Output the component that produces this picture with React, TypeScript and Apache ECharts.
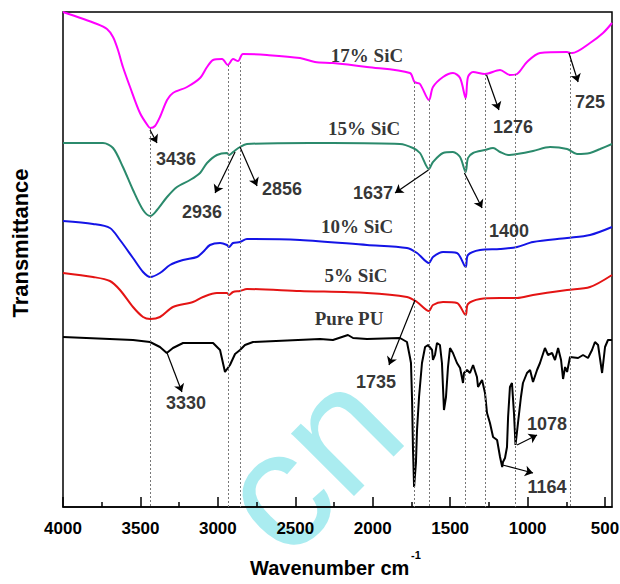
import React, { useEffect, useRef } from "react";
import * as echarts from "echarts";

const majorTicks = [4000, 3500, 3000, 2500, 2000, 1500, 1000, 500];
const minorTicks = [3750, 3250, 2750, 2250, 1750, 1250, 750];

const sic17: [number, number][] = [
  [4000, 495], [3780, 483], [3716, 478], [3677, 470], [3645, 457], [3613, 440], [3567, 420], [3503, 394],
  [3451, 381], [3436, 379], [3406, 381], [3374, 390], [3328, 407], [3290, 414], [3199, 420], [3115, 429],
  [3070, 440], [3031, 447], [2973, 448], [2936, 442], [2902, 448], [2870, 446], [2838, 453], [2683, 452],
  [2470, 449], [2373, 445], [2257, 444], [2037, 440], [1760, 434], [1730, 425], [1695, 423], [1637, 407],
  [1611, 420], [1546, 430], [1482, 434], [1436, 429], [1400, 409], [1385, 430], [1352, 435], [1276, 433],
  [1178, 437], [1114, 432], [1068, 433], [1004, 445], [920, 454], [745, 455], [725, 454], [713, 454],
  [597, 464], [513, 474], [455, 484],
];

const sic15: [number, number][] = [
  [4000, 364], [3742, 364], [3677, 359], [3613, 340], [3548, 317], [3483, 297], [3436, 291], [3393, 297],
  [3328, 310], [3264, 320], [3180, 327], [3115, 334], [3070, 344], [3006, 352], [2941, 354], [2928, 352],
  [2902, 355], [2857, 360], [2812, 363], [2405, 364], [2257, 364], [1824, 363], [1740, 359], [1695, 354],
  [1637, 338], [1611, 345], [1546, 354], [1482, 355], [1436, 350], [1400, 335], [1385, 349], [1352, 354],
  [1275, 357], [1223, 359], [1178, 355], [1126, 352], [1068, 353], [965, 356], [855, 360], [745, 358],
  [681, 353], [597, 354], [532, 358], [455, 363],
];

const sic10: [number, number][] = [
  [4000, 286], [3806, 283], [3697, 279], [3632, 267], [3548, 249], [3483, 235], [3436, 230], [3374, 234],
  [3309, 242], [3225, 247], [3135, 250], [3096, 255], [3051, 262], [2986, 264], [2941, 262], [2928, 260],
  [2902, 264], [2857, 265], [2812, 268], [2470, 267], [2037, 262], [1779, 259], [1714, 254], [1637, 244],
  [1611, 250], [1546, 255], [1456, 254], [1400, 240], [1385, 252], [1307, 257], [1178, 258], [1068, 260],
  [965, 265], [745, 269], [597, 272], [455, 280],
];

const sic5: [number, number][] = [
  [4000, 234], [3806, 230], [3697, 226], [3632, 217], [3548, 200], [3483, 190], [3436, 188], [3374, 190],
  [3290, 200], [3161, 205], [3096, 210], [3006, 214], [2941, 214], [2928, 212], [2902, 215], [2857, 216],
  [2812, 218], [2470, 216], [2037, 214], [1779, 210], [1714, 205], [1637, 196], [1611, 202], [1546, 205],
  [1456, 204], [1400, 192], [1385, 203], [1307, 208], [1178, 209], [1068, 209], [965, 212], [745, 217],
  [597, 220], [455, 232],
];

const purePU: [number, number][] = [
  [4000, 170], [3548, 167], [3438, 165], [3374, 160], [3330, 154], [3290, 159], [3225, 164], [3031, 164],
  [2986, 157], [2954, 135], [2922, 142], [2889, 153], [2857, 157], [2825, 162], [2773, 165], [2340, 168],
  [2257, 167], [2160, 172], [2127, 169], [2037, 168], [1824, 169], [1779, 165], [1760, 150], [1753, 144],
  [1746, 107], [1740, 57], [1733, 20], [1721, 44], [1714, 77], [1701, 110], [1682, 144], [1662, 160],
  [1643, 162], [1617, 157], [1611, 147], [1598, 152], [1585, 164], [1566, 162], [1553, 144], [1540, 97],
  [1527, 110], [1514, 140], [1501, 159], [1482, 154], [1456, 144], [1436, 139], [1417, 124], [1411, 134],
  [1391, 137], [1372, 134], [1352, 142], [1327, 130], [1320, 120], [1294, 127], [1275, 114], [1262, 94],
  [1243, 84], [1223, 70], [1197, 67], [1178, 50], [1164, 40], [1159, 45], [1146, 49], [1133, 60],
  [1126, 90], [1114, 120], [1101, 124], [1088, 94], [1078, 62], [1062, 84], [1043, 110], [1030, 124],
  [1004, 134], [984, 137], [965, 125], [939, 137], [920, 144], [888, 159], [868, 152], [842, 154],
  [823, 147], [803, 159], [784, 147], [771, 128], [758, 140], [745, 135], [726, 150], [674, 149],
  [642, 152], [610, 149], [584, 157], [565, 165], [545, 162], [519, 134], [500, 160], [481, 167],
  [455, 167],
];

const sampleNames = ["17% SiC", "15% SiC", "10% SiC", "5% SiC", "Pure PU"];
const sampleLabelPos: [number, number][] = [[2037, 452], [2056, 379], [2101, 281], [2108, 232], [2153, 189]];

const peakNames = ["3436", "2936", "2856", "1637", "1400", "1276", "725", "3330", "1735", "1078", "1164"];
const peakLabelPos: [number, number][] = [
  [3270, 348], [3102, 295], [2586, 318], [1998, 314], [1120, 276], [1094, 380], [597, 405],
  [3206, 104], [1979, 125], [875, 83], [875, 20],
];
const arrowFrom: [number, number][] = [
  [3438, 377], [2889, 355], [2857, 360], [1640, 337], [1408, 334], [1265, 432], [733, 454],
  [3328, 154], [1727, 207], [1068, 62], [1162, 42],
];
const arrowTo: [number, number][] = [
  [3393, 364], [3018, 314], [2747, 321], [1856, 314], [1294, 299], [1185, 397], [674, 425],
  [3232, 115], [1895, 142], [939, 72], [965, 34],
];

const guideWn = [3436, 2936, 2856, 1735, 1637, 1400, 1276, 1078, 725];
const guideTop = [379, 442, 445, 425, 407, 409, 433, 433, 455];

const sansBold = "'Liberation Sans', Arial, sans-serif";

export default function App() {
  const ref = useRef<HTMLDivElement>(null);
  useEffect(() => {
    const chart = echarts.init(ref.current!, null, { renderer: "svg" });
    const lineSeries = (name: string, data: [number, number][], color: string, smooth: number | boolean) => ({
      name,
      type: "line",
      data,
      showSymbol: false,
      symbol: "none",
      smooth,
      lineStyle: { color, width: 2 },
      silent: true,
      z: 3,
    });
    const option: any = {
      animation: false,
      backgroundColor: "#fff",
      grid: {
        left: 63, right: 8, top: 12, bottom: 77, show: true, borderColor: "#000", borderWidth: 1.5,
        backgroundColor: "transparent", containLabel: false, outerBoundsMode: "none",
      },
      xAxis: [
        {
          type: "value", inverse: true, min: 455, max: 4000, position: "bottom",
          axisLine: { show: true, lineStyle: { color: "#000", width: 1.5 } },
          axisTick: { show: true, inside: true, length: 10, customValues: majorTicks, lineStyle: { color: "#000", width: 1.5 } },
          axisLabel: {
            show: true, customValues: majorTicks, margin: 13, color: "#000", fontFamily: sansBold, fontWeight: "bold", fontSize: 17,
            formatter: (v: number) => String(v), hideOverlap: false,
          },
          splitLine: { show: false },
        },
        {
          type: "value", inverse: true, min: 455, max: 4000, position: "bottom",
          axisLine: { show: false },
          axisTick: { show: true, inside: true, length: 5, customValues: minorTicks, lineStyle: { color: "#000", width: 1.5 } },
          axisLabel: { show: false },
          splitLine: { show: false },
        },
      ],
      yAxis: { type: "value", min: 0, max: 495, show: false, splitLine: { show: false } },
      graphic: [
        {
          type: "text", x: 308, y: 460, rotation: Math.PI / 4, z: -10,
          style: { text: "cn", fill: "rgb(170,236,240)", fontSize: 168, fontFamily: "'Liberation Sans', Arial, sans-serif", textAlign: "center", textVerticalAlign: "middle" },
        },
        {
          type: "text", x: 20, y: 243, rotation: Math.PI / 2,
          style: { text: "Transmittance", fill: "#000", fontSize: 22, fontWeight: "bold", fontFamily: "'Liberation Sans', Arial, sans-serif", textAlign: "center", textVerticalAlign: "middle" },
        },
        {
          type: "text", x: 250, y: 568,
          style: { text: "Wavenumber cm", fill: "#000", fontSize: 20, fontWeight: "bold", fontFamily: "'Liberation Sans', Arial, sans-serif", textAlign: "left", textVerticalAlign: "middle" },
        },
        {
          type: "text", x: 411, y: 555,
          style: { text: "-1", fill: "#000", fontSize: 11, fontWeight: "bold", fontFamily: "'Liberation Sans', Arial, sans-serif", textAlign: "left", textVerticalAlign: "middle" },
        },
      ],
      series: [
        lineSeries("17% SiC", sic17, "#ff00ff", 0.3),
        lineSeries("15% SiC", sic15, "#2b8a6c", 0.3),
        lineSeries("10% SiC", sic10, "#1414e6", 0.3),
        lineSeries("5% SiC", sic5, "#e41414", 0.3),
        lineSeries("Pure PU", purePU, "#000000", false),
        {
          name: "sampleLabels", type: "scatter", symbolSize: 1, silent: true, z: 5,
          itemStyle: { color: "rgba(0,0,0,0)" },
          data: sampleNames.map((n, i) => ({ name: n, value: sampleLabelPos[i] })),
          label: { show: true, position: "inside", formatter: "{b}", color: "#000", fontSize: 19, fontWeight: "bold", fontFamily: "'Liberation Serif', 'Times New Roman', serif" },
          markLine: {
            silent: true, symbol: ["none", "none"], label: { show: false },
            lineStyle: { color: "#777", width: 1, type: [2, 2] },
            data: guideWn.map((w, i) => [{ coord: [w, guideTop[i]] }, { coord: [w, 0] }]),
          },
        },
        {
          name: "peakLabels", type: "scatter", symbolSize: 1, silent: true, z: 5,
          itemStyle: { color: "rgba(0,0,0,0)" },
          data: peakNames.map((n, i) => ({ name: n, value: peakLabelPos[i] })),
          label: { show: true, position: "inside", formatter: "{b}", color: "#000", fontSize: 18, fontWeight: "bold", fontFamily: sansBold },
          markLine: {
            silent: true, symbol: ["none", "arrow"], symbolSize: 8, label: { show: false },
            lineStyle: { color: "#000", width: 1.2, type: "solid" },
            data: arrowFrom.map((f, i) => [{ coord: f }, { coord: arrowTo[i] }]),
          },
        },
      ],
    };
    chart.setOption(option);
    return () => chart.dispose();
  }, []);
  return <div ref={ref} style={{ position: "fixed", left: 0, top: 0, width: 620, height: 584, background: "#fff" }} />;
}
